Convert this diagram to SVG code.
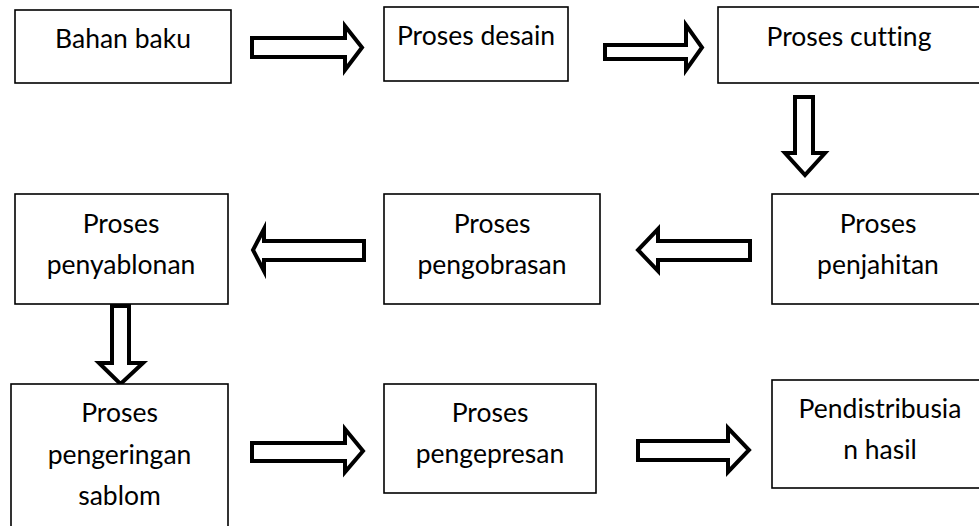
<svg xmlns="http://www.w3.org/2000/svg" width="979" height="526" viewBox="0 0 979 526">
<style>
.box{fill:#fff;stroke:#000;stroke-width:1.6}
.arr{fill:#fff;stroke:#000;stroke-width:4;stroke-linejoin:miter;stroke-miterlimit:10}
text{font-family:Lato,"Open Sans","Liberation Sans",sans-serif;font-size:26.5px;fill:#000;text-anchor:middle;font-variant-ligatures:none;font-feature-settings:"liga" 0}
</style>
<rect width="979" height="526" fill="#fff"/>
<g id="connectors">
<path class="arr" d="M252,38 H345 V26 L362,47.5 L345,70 V57 H252 Z"/>
<path class="arr" d="M605,45 H686 V25 L702,47.5 L686,70 V59 H605 Z"/>
<path class="arr" d="M795,97 H813 V153 H825 L805,175 L785,153 H795 Z"/>
<path class="arr" d="M364,241 H264 V229 L253,250 L264,271 V260 H364 Z"/>
<path class="arr" d="M750,241 H658 V229 L638,250 L658,271 V260 H750 Z"/>
<path class="arr" d="M112,306 H129 V363 H143 L120.5,384 L99,363 H112 Z"/>
<path class="arr" d="M252,443 H345 V429 L363,451 L345,472 V461 H252 Z"/>
<path class="arr" d="M638,441 H728 V428 L749,450 L728,472 V460 H638 Z"/>
</g>
<g id="n1"><rect class="box" x="15" y="10" width="216" height="73"/><text x="123" y="48">Bahan baku</text></g>
<g id="n2"><rect class="box" x="384" y="7" width="184" height="74"/><text x="476" y="45">Proses desain</text></g>
<g id="n3"><rect class="box" x="718" y="7" width="280" height="76"/><text x="849" y="46">Proses cutting</text></g>
<g id="n4"><rect class="box" x="772" y="194" width="230" height="110"/><text x="878" y="233">Proses</text><text x="878" y="274">penjahitan</text></g>
<g id="n5"><rect class="box" x="384" y="194" width="216" height="110"/><text x="492" y="233">Proses</text><text x="492" y="274">pengobrasan</text></g>
<g id="n6"><rect class="box" x="15" y="194" width="213" height="110"/><text x="121" y="233">Proses</text><text x="121" y="274">penyablonan</text></g>
<g id="n7"><rect class="box" x="11" y="384" width="217" height="160"/><text x="119.5" y="422">Proses</text><text x="119.5" y="464">pengeringan</text><text x="119.5" y="505">sablom</text></g>
<g id="n8"><rect class="box" x="384" y="384" width="212" height="109"/><text x="490" y="422">Proses</text><text x="490" y="463">pengepresan</text></g>
<g id="n9"><rect class="box" x="772" y="380" width="230" height="108"/><text x="880" y="418">Pendistribusia</text><text x="880" y="459">n hasil</text></g>
</svg>
